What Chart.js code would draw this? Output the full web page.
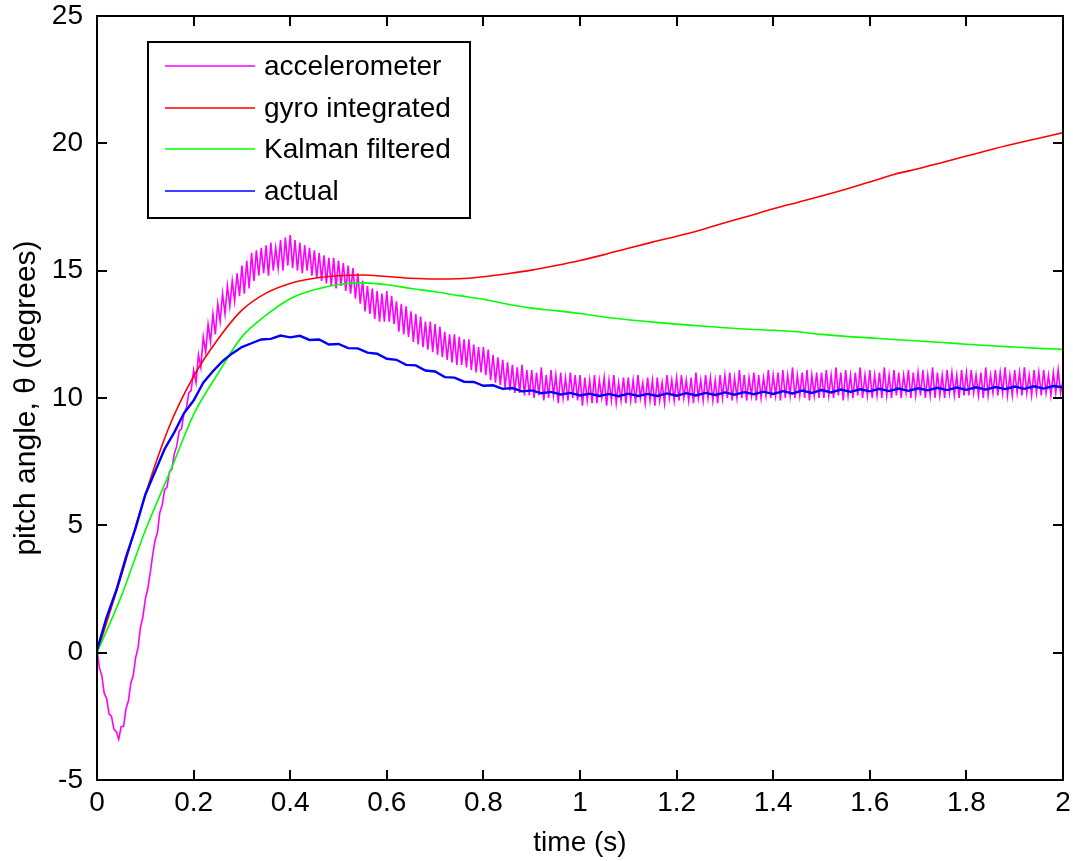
<!DOCTYPE html>
<html>
<head>
<meta charset="utf-8">
<script src="https://cdn.jsdelivr.net/npm/chart.js@4/dist/chart.umd.min.js"></script>
<style>
html,body{margin:0;padding:0;background:#fff;}
canvas{display:block;}
</style>
</head>
<body>
<canvas id="c" width="1073" height="861"></canvas>
<script>
// ---- data ----
const seriesNames = ["accelerometer", "gyro integrated", "Kalman filtered", "actual"];
const seriesColors = ["#ff00ff", "#ff0000", "#00ff00", "#0000ff"];
const xTickValues = [0, 0.2, 0.4, 0.6, 0.8, 1, 1.2, 1.4, 1.6, 1.8, 2];
const yTickValues = [-5, 0, 5, 10, 15, 20, 25];

// accelerometer, sampled every 0.005 s from 0 to 2 s
const accelStep = 0.005;
const accel = [
 0.1,-0.6,-0.9,-1.6,-1.8,-2.4,-2.5,-3.0,-3.1,-3.4,-2.9,-2.9,-2.2,-1.9,-1.2,-0.9,-0.2,0.2,1.0,1.4,
 2.1,2.5,3.1,3.8,4.4,4.7,5.5,5.8,6.4,6.5,7.1,7.2,7.8,8.1,8.7,8.8,9.4,9.6,10.2,10.3,
 11.1,10.6,11.7,11.2,12.4,11.8,12.9,12.2,13.3,12.5,13.7,13.0,14.1,13.3,14.4,13.6,14.6,13.8,14.9,14.0,
 15.2,14.1,15.4,14.3,15.7,14.6,15.8,14.8,15.9,14.9,16.0,14.8,16.1,15.0,15.9,15.1,16.2,15.0,16.3,15.2,
 16.4,15.1,16.2,15.0,16.1,14.9,16.0,15.0,15.9,14.8,15.8,14.7,15.7,14.6,15.6,14.5,15.5,14.4,15.5,14.3,
 15.4,14.4,15.3,14.2,15.2,14.1,15.1,13.9,14.9,13.7,14.6,13.4,14.4,13.3,14.3,13.1,14.2,13.0,14.1,13.0,
 14.2,13.0,14.0,12.9,13.8,12.6,13.7,12.5,13.6,12.4,13.4,12.2,13.3,12.1,13.2,12.0,13.0,11.9,13.0,11.8,
 12.9,11.7,12.8,11.6,12.6,11.5,12.5,11.4,12.5,11.3,12.4,11.3,12.3,11.2,12.3,11.1,12.1,11.0,12.0,11.0,
 12.0,10.9,11.9,10.7,11.7,10.6,11.6,10.5,11.5,10.4,11.4,10.3,11.3,10.2,11.2,10.2,11.3,10.1,11.1,10.1,
 11.1,10.0,11.0,10.1,11.2,9.9,10.9,10.0,11.1,10.1,10.9,9.8,11.0,10.0,10.8,9.9,11.0,10.0,10.9,9.9,
 10.9,9.7,10.8,9.9,10.7,9.8,10.9,9.8,10.7,10.0,10.8,9.7,10.7,9.9,10.9,9.8,10.6,9.9,10.8,9.8,
 10.8,9.9,10.7,9.8,10.9,10.0,10.6,9.8,10.8,9.9,10.7,9.7,10.8,9.9,10.6,9.8,10.9,10.0,10.7,9.9,
 10.8,9.9,10.9,10.0,10.7,9.9,10.8,9.8,11.0,10.0,10.7,9.9,10.9,10.0,10.8,9.9,10.7,9.8,10.9,10.0,
 10.9,10.0,11.0,9.9,10.8,10.0,11.1,10.0,10.9,9.9,10.8,10.1,11.0,9.9,10.9,10.0,10.8,10.1,11.1,10.0,
 10.9,10.1,11.0,9.9,11.1,10.0,10.9,10.1,11.2,10.0,10.9,10.1,11.0,10.0,11.1,9.9,10.9,10.1,11.0,10.0,
 11.0,10.0,11.1,10.1,10.9,10.0,11.2,10.1,11.0,9.9,11.1,10.1,10.9,10.0,11.0,10.1,11.2,10.0,10.9,10.1,
 11.1,10.0,10.9,10.1,11.0,10.0,11.2,10.1,10.9,10.0,11.1,10.1,11.0,10.0,10.9,10.2,11.1,10.0,11.0,10.1,
 11.0,10.1,11.1,10.0,10.9,10.1,11.2,10.0,11.0,10.1,10.9,10.0,11.1,10.2,11.0,10.1,10.9,10.0,11.1,10.1,
 11.0,10.1,11.1,10.2,10.9,10.1,11.0,10.0,11.2,10.1,10.9,10.2,11.1,10.1,11.0,10.2,11.2,10.1,10.9,10.1,
 11.1,10.2,11.0,10.1,11.2,10.2,10.9,10.1,11.1,10.2,11.0,10.1,11.1,10.2,10.9,10.1,11.0,10.2,11.1,10.2,
 10.7
];

// gyro integrated, every 0.05 s
const gyroStep = 0.05;
const gyro = [
 0.0,3.0,6.2,8.9,10.85,12.3,13.45,14.12,14.5,14.7,
 14.8,14.83,14.77,14.7,14.67,14.68,14.76,14.88,15.02,15.2,
 15.4,15.63,15.88,16.12,16.35,16.6,16.88,17.15,17.43,17.68,
 17.93,18.2,18.48,18.78,19.0,19.25,19.5,19.75,19.98,20.2,
 20.42
];

// Kalman filtered, every 0.05 s
const kalmanStep = 0.05;
const kalman = [
 0.0,2.2,4.8,7.05,9.35,10.95,12.4,13.25,13.9,14.25,
 14.46,14.52,14.45,14.3,14.17,14.02,13.88,13.68,13.53,13.43,
 13.32,13.18,13.07,12.98,12.9,12.83,12.76,12.7,12.66,12.6,
 12.5,12.42,12.36,12.3,12.24,12.18,12.11,12.05,12.0,11.95,
 11.91
];

// actual, every 0.02 s
const actualStep = 0.02;
const actual = [
 0.1,1.4,2.45,3.75,4.9,6.2,7.1,8.0,8.65,9.4,
 9.9,10.6,11.05,11.45,11.75,12.0,12.15,12.3,12.32,12.45,
 12.38,12.44,12.28,12.3,12.1,12.12,11.96,11.95,11.78,11.74,
 11.54,11.5,11.3,11.28,11.08,11.04,10.82,10.8,10.64,10.63,
 10.48,10.5,10.36,10.39,10.26,10.3,10.19,10.24,10.14,10.2,
 10.1,10.17,10.08,10.16,10.07,10.17,10.08,10.16,10.08,10.18,
 10.09,10.19,10.1,10.2,10.12,10.22,10.13,10.23,10.15,10.25,
 10.16,10.27,10.18,10.29,10.2,10.31,10.22,10.33,10.24,10.34,
 10.26,10.36,10.27,10.37,10.28,10.38,10.3,10.4,10.31,10.41,
 10.32,10.42,10.33,10.43,10.35,10.45,10.36,10.46,10.37,10.47,
 10.42
];

function toPoints(values, step) {
  return values.map((v, i) => ({ x: +(i * step).toFixed(4), y: v }));
}

const FONT = '"Liberation Sans", Arial, sans-serif';

const framePlugin = {
  id: 'frame',
  afterDraw(chart) {
    const ctx = chart.ctx;
    const a = chart.chartArea;
    const xs = chart.scales.x, ys = chart.scales.y;
    ctx.save();
    ctx.strokeStyle = '#000';
    ctx.lineWidth = 2;
    ctx.beginPath();
    ctx.rect(a.left, a.top, a.right - a.left, a.bottom - a.top);
    ctx.stroke();
    const tl = 10;
    ctx.beginPath();
    xs.ticks.forEach(t => {
      const px = Math.round(xs.getPixelForValue(t.value));
      ctx.moveTo(px, a.bottom); ctx.lineTo(px, a.bottom - tl);
      ctx.moveTo(px, a.top); ctx.lineTo(px, a.top + tl);
    });
    ys.ticks.forEach(t => {
      const py = Math.round(ys.getPixelForValue(t.value));
      ctx.moveTo(a.left, py); ctx.lineTo(a.left + tl, py);
      ctx.moveTo(a.right, py); ctx.lineTo(a.right - tl, py);
    });
    ctx.stroke();

    // legend box
    const bx = 148, by = 42, bw = 322, bh = 176;
    ctx.fillStyle = '#fff';
    ctx.fillRect(bx, by, bw, bh);
    ctx.lineWidth = 2;
    ctx.strokeRect(bx, by, bw, bh);
    const rows = [66, 108, 149, 191];
    ctx.font = '28px ' + FONT;
    ctx.textBaseline = 'middle';
    ctx.textAlign = 'left';
    chart.data.datasets.forEach((ds, i) => {
      ctx.strokeStyle = ds.borderColor;
      ctx.lineWidth = 1.6;
      ctx.beginPath();
      ctx.moveTo(165, rows[i]); ctx.lineTo(255, rows[i]);
      ctx.stroke();
      ctx.fillStyle = '#000';
      ctx.fillText(ds.label, 264, rows[i] + 1);
    });
    ctx.restore();
  }
};

const datasets = [
  { label: seriesNames[0], data: toPoints(accel, accelStep), borderColor: seriesColors[0], order: 4, tension: 0, borderWidth: 1.6 },
  { label: seriesNames[1], data: toPoints(gyro, gyroStep), borderColor: seriesColors[1], order: 3, cubicInterpolationMode: 'monotone', borderWidth: 1.6 },
  { label: seriesNames[2], data: toPoints(kalman, kalmanStep), borderColor: seriesColors[2], order: 2, cubicInterpolationMode: 'monotone', borderWidth: 1.6 },
  { label: seriesNames[3], data: toPoints(actual, actualStep), borderColor: seriesColors[3], order: 1, tension: 0, borderWidth: 2.4 }
].map(d => Object.assign({ pointRadius: 0, fill: false }, d));

new Chart(document.getElementById('c'), {
  type: 'line',
  data: { datasets },
  plugins: [framePlugin],
  options: {
    responsive: false,
    devicePixelRatio: 1,
    animation: false,
    layout: { padding: { top: 16, right: 10, left: 0, bottom: 0 } },
    plugins: { legend: { display: false }, tooltip: { enabled: false } },
    scales: {
      x: {
        type: 'linear', min: 0, max: 2,
        afterBuildTicks(s) { s.ticks = xTickValues.map(v => ({ value: v })); },
        afterFit(s) { s.height = 81; s.paddingLeft = 0; s.paddingRight = 0; },
        grid: { display: false, drawTicks: false },
        border: { display: false },
        ticks: {
          color: '#000', padding: 6, maxRotation: 0, autoSkip: false,
          font: { family: FONT, size: 28 },
          callback: v => String(Number(v.toFixed(1)))
        },
        title: { display: true, text: 'time (s)', color: '#000', font: { family: FONT, size: 28 }, padding: { top: 0, bottom: 1 } }
      },
      y: {
        type: 'linear', min: -5, max: 25,
        afterBuildTicks(s) { s.ticks = yTickValues.map(v => ({ value: v })); },
        afterFit(s) { s.width = 97; s.paddingTop = 0; s.paddingBottom = 0; },
        grid: { display: false, drawTicks: false },
        border: { display: false },
        ticks: { color: '#000', padding: 14, autoSkip: false, font: { family: FONT, size: 28 } },
        title: { display: true, text: 'pitch angle, θ (degrees)', color: '#000', font: { family: FONT, size: 30 }, padding: { top: 9, bottom: 0 } }
      }
    }
  }
});
</script>
</body>
</html>
